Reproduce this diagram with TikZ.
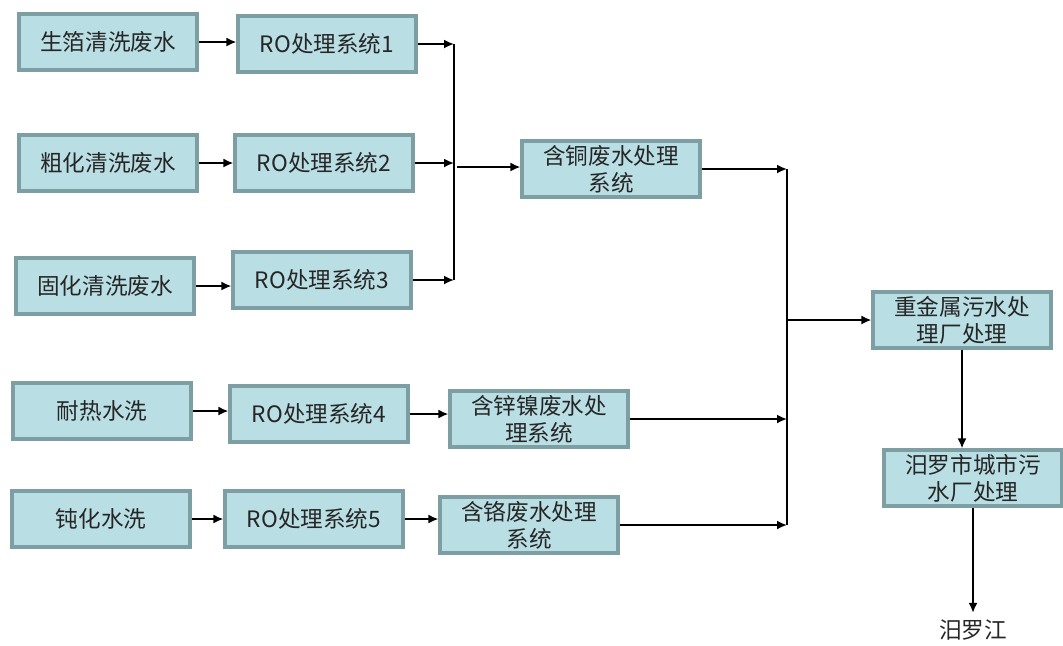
\documentclass[tikz,border=0pt]{standalone}
\usepackage{fontspec}
\usetikzlibrary{arrows.meta}
\setmainfont{Noto Sans CJK SC}
\definecolor{boxfill}{RGB}{185,222,228}
\definecolor{boxline}{RGB}{125,158,163}
\begin{document}
\begin{tikzpicture}[x=0.5pt, y=-0.5pt, >={Latex[length=5pt,width=4.5pt]}, line width=0.9pt,
    box/.style={draw=boxline, fill=boxfill, line width=1.6pt, minimum width=89pt,
        minimum height=28pt, inner sep=1pt, align=center,
        font=\fontsize{11.3}{13.5}\selectfont, text=black!85}]
    \useasboundingbox (0,0) rectangle (1063,645);

    \def\xbusa{454};
    \def\xbusb{787};

    % left column
    \node[box] (sheng) at (108,42) {生箔清洗废水};
    \node[box] (cuhua) at (108,163) {粗化清洗废水};
    \node[box] (guhua) at (105,286) {固化清洗废水};
    \node[box] (naire) at (102,411) {耐热水洗};
    \node[box] (dunhua) at (101,519) {钝化水洗};

    % RO systems
    \node[box] (ro1) at (327,44) {RO处理系统1};
    \node[box] (ro2) at (324,163) {RO处理系统2};
    \node[box] (ro3) at (322,280) {RO处理系统3};
    \node[box] (ro4) at (319,414) {RO处理系统4};
    \node[box] (ro5) at (314,519) {RO处理系统5};

    % treatment systems
    \node[box] (tong) at (611,169) {含铜废水处理\\系统};
    \node[box] (xinnie) at (539,419) {含锌镍废水处\\理系统};
    \node[box] (ge) at (529,525) {含铬废水处理\\系统};
    \node[box] (zhong) at (962,320) {重金属污水处\\理厂处理};
    \node[box] (miluo) at (973,478) {汨罗市城市污\\水厂处理};
    \node[font=\fontsize{11.3}{13.5}\selectfont, text=black!85, inner sep=3pt] (jiang) at (973,630) {汨罗江};

    \coordinate (busa) at (\xbusa,167);
    \coordinate (busb) at (\xbusb,320);

    \draw[->] (sheng.east) -- (sheng.east -| ro1.west);
    \draw[->] (cuhua.east) -- (cuhua.east -| ro2.west);
    \draw[->] (guhua.east) -- (guhua.east -| ro3.west);
    \draw[->] (naire.east) -- (naire.east -| ro4.west);
    \draw[->] (dunhua.east) -- (dunhua.east -| ro5.west);

    \draw[->] (ro1.east) -- (ro1.east -| busa);
    \draw[->] (ro2.east) -- (ro2.east -| busa);
    \draw[->] (ro3.east) -- (ro3.east -| busa);
    \draw (ro1.east -| busa) -- (ro3.east -| busa);
    \draw[->] ([xshift=1.5pt]busa) -- (busa -| tong.west);

    \draw[->] (ro4.east) -- (ro4.east -| xinnie.west);
    \draw[->] (ro5.east) -- (ro5.east -| ge.west);

    \draw[->] (tong.east) -- (tong.east -| busb);
    \draw[->] (xinnie.east) -- (xinnie.east -| busb);
    \draw[->] (ge.east) -- (ge.east -| busb);
    \draw (tong.east -| busb) -- (ge.east -| busb);
    \draw[->] (busb) -- (zhong.west);

    \draw[->] (zhong.south) -- (zhong.south |- miluo.north);
    \draw[->] (miluo.south) -- (jiang.north);
\end{tikzpicture}
\end{document}
